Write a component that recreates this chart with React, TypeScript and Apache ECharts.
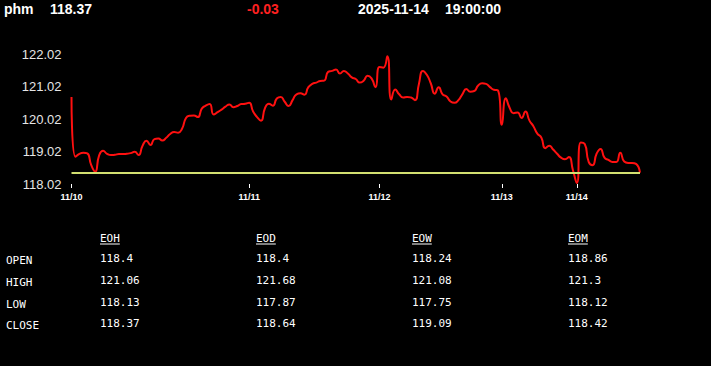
import React, { useEffect, useRef } from 'react';
import * as echarts from 'echarts';

const symbolName = 'phm';
const lastPrice = '118.37';
const priceChange = '-0.03';
const quoteDate = '2025-11-14';
const quoteTime = '19:00:00';

const dayLabels: { index: number; label: string }[] = [
  { index: 0, label: '11/10' },
  { index: 45, label: '11/11' },
  { index: 78, label: '11/12' },
  { index: 109, label: '11/13' },
  { index: 128, label: '11/14' },
];

const prices: number[] = [
  120.70, 118.86, 118.95, 118.98, 118.96, 118.60, 118.40, 118.90, 119.04, 118.95,
  118.91, 118.92, 118.94, 118.94, 118.95, 118.97, 119.01, 118.91, 119.20, 119.35,
  119.22, 119.40, 119.42, 119.36, 119.44, 119.56, 119.62, 119.60, 119.72, 120.05,
  120.12, 120.13, 120.08, 120.34, 120.43, 120.48, 120.16, 120.23, 120.31, 120.40,
  120.47, 120.38, 120.42, 120.48, 120.49, 120.52, 120.25, 120.08, 119.97, 120.35,
  120.49, 120.43, 120.65, 120.70, 120.55, 120.42, 120.60, 120.78, 120.81, 120.77,
  121.00, 121.10, 121.14, 121.19, 121.20, 121.47, 121.50, 121.54, 121.42, 121.50,
  121.42, 121.30, 121.25, 121.14, 121.20, 121.35, 121.27, 121.00, 121.62, 121.60,
  121.95, 120.62, 120.93, 120.78, 120.68, 120.70, 120.68, 120.60, 121.10, 121.50,
  121.38, 121.12, 120.80, 121.00, 120.78, 120.71, 120.56, 120.52, 120.60, 120.78,
  120.94, 120.86, 120.88, 121.05, 121.12, 121.10, 121.00, 120.92, 120.90, 119.84,
  120.66, 120.36, 120.20, 120.22, 120.05, 120.25, 119.97, 119.80, 119.57, 119.45,
  119.12, 119.20, 119.08, 118.95, 118.83, 118.78, 118.85, 118.45, 118.05, 119.30,
  119.25, 118.70, 118.60, 118.95, 119.10, 118.83, 118.76, 118.70, 118.70, 118.98,
  118.71, 118.67, 118.67, 118.64, 118.37,
];

const referenceLevel = 118.37;
const yMin = 118.02;
const yMax = 122.02;
const yStep = 1;

const tableColumns = ['EOH', 'EOD', 'EOW', 'EOM'];
const tableRows = ['OPEN', 'HIGH', 'LOW', 'CLOSE'];
const eohValues = ['118.4', '121.06', '118.13', '118.37'];
const eodValues = ['118.4', '121.68', '117.87', '118.64'];
const eowValues = ['118.24', '121.08', '117.75', '119.09'];
const eomValues = ['118.86', '121.3', '118.12', '118.42'];

const SANS = '"Liberation Sans", Arial, sans-serif';
const MONO = '"DejaVu Sans Mono", "Liberation Mono", monospace';

export default function App() {
  const ref = useRef<HTMLDivElement>(null);

  useEffect(() => {
    document.body.style.margin = '0';
    document.body.style.background = '#000';
    if (!ref.current) return;
    const chart = echarts.init(ref.current, null, { renderer: 'svg' });

    const categories = prices.map((_, i) => {
      const d = dayLabels.find((x) => x.index === i);
      return d ? d.label : '';
    });
    const showAt = (_i: number, v: string) => v !== '';

    const columnValues = [eohValues, eodValues, eowValues, eomValues];
    const colX = [100, 256, 412, 568];
    const rowY = [259, 281, 303, 324];
    const headerFont = `bold 14px ${SANS}`;
    const graphics: any[] = [
      { type: 'text', x: 4, y: 9, style: { text: symbolName, fill: '#fff', font: headerFont, verticalAlign: 'middle' } },
      { type: 'text', x: 50, y: 9, style: { text: lastPrice, fill: '#fff', font: headerFont, verticalAlign: 'middle' } },
      { type: 'text', x: 247, y: 9, style: { text: priceChange, fill: '#ff2020', font: headerFont, verticalAlign: 'middle' } },
      { type: 'text', x: 358, y: 9, style: { text: quoteDate, fill: '#fff', font: headerFont, verticalAlign: 'middle' } },
      { type: 'text', x: 445, y: 9, style: { text: quoteTime, fill: '#fff', font: headerFont, verticalAlign: 'middle' } },
    ];
    tableColumns.forEach((c, ci) => {
      graphics.push({ type: 'text', x: colX[ci], y: 238, style: { text: c, fill: '#fff', font: `11px ${MONO}`, verticalAlign: 'middle' } });
      graphics.push({ type: 'line', shape: { x1: colX[ci], y1: 244, x2: colX[ci] + c.length * 6.6, y2: 244 }, style: { stroke: '#fff', lineWidth: 1 } });
      columnValues[ci].forEach((v, ri) => {
        graphics.push({ type: 'text', x: colX[ci], y: rowY[ri] - 1, style: { text: v, fill: '#fff', font: `11px ${MONO}`, verticalAlign: 'middle' } });
      });
    });
    tableRows.forEach((r, ri) => {
      graphics.push({ type: 'text', x: 6, y: rowY[ri] + 1, style: { text: r, fill: '#fff', font: `11px ${MONO}`, verticalAlign: 'middle' } });
    });

    chart.setOption({
      animation: false,
      backgroundColor: '#000',
      grid: { left: 71.5, right: 71, top: 54, bottom: 182, containLabel: false },
      xAxis: {
        type: 'category',
        data: categories,
        boundaryGap: false,
        axisLine: { show: false },
        axisTick: { show: true, interval: showAt, length: 4, lineStyle: { color: '#fff', width: 1 } },
        axisLabel: { interval: showAt, color: '#fff', fontSize: 9, fontWeight: 'bold', fontFamily: SANS, margin: 8 },
        splitLine: { show: false },
      },
      yAxis: {
        type: 'value',
        min: yMin,
        max: yMax,
        interval: yStep,
        axisLine: { show: false },
        axisTick: { show: false },
        splitLine: { show: false },
        axisLabel: { color: '#e6e6e6', fontSize: 13, fontFamily: SANS, margin: 10, formatter: (v: number) => v.toFixed(2) },
      },
      series: [
        {
          type: 'line',
          data: prices,
          smooth: 0.55,
          showSymbol: false,
          lineStyle: { color: '#ff1010', width: 2 },
          markLine: {
            silent: true,
            symbol: ['none', 'none'],
            label: { show: false },
            lineStyle: { color: '#d2df70', width: 2, type: 'solid' },
            data: [{ yAxis: referenceLevel }],
          },
        },
      ],
      graphic: graphics,
    });

    return () => chart.dispose();
  }, []);

  return <div ref={ref} style={{ width: 711, height: 366, background: '#000' }} />;
}
